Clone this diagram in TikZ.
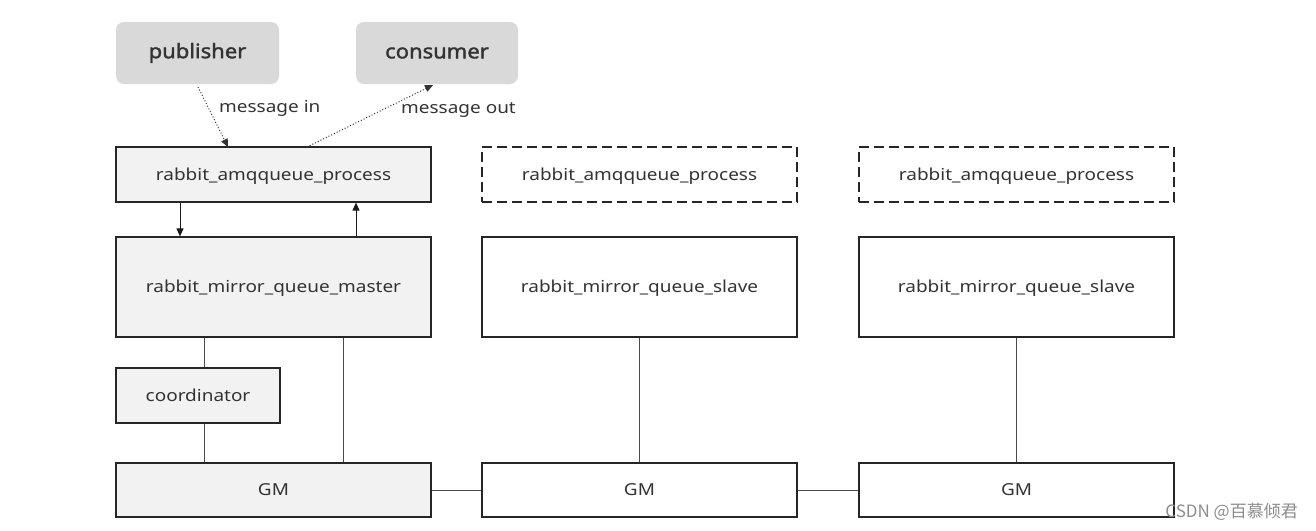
\documentclass[tikz,border=0pt]{standalone}
\usepackage{fontspec}
\setmainfont{Noto Sans}
\newfontfamily\widefont[FakeStretch=1.15]{Noto Sans}
\newfontfamily\clientfont[FakeBold=1.6,FakeStretch=1.1]{Noto Sans}
\newfontfamily\cjkfont{Noto Sans CJK SC}
\usetikzlibrary{arrows.meta}
\definecolor{txt}{HTML}{333333}
\definecolor{lightfill}{HTML}{F2F2F2}
\definecolor{pubfill}{HTML}{D9D9D9}
\tikzset{
  box/.style={draw=black!85, line width=1.2pt, text=txt, font=\widefont\fontsize{16.5}{19}\selectfont, text depth=1pt},
  fillbox/.style={box, fill=lightfill},
  dashbox/.style={box, dash pattern=on 10pt off 5pt},
  client/.style={fill=pubfill, rounded corners=8pt, text=txt, font=\clientfont\fontsize{20}{23}\selectfont},
  link/.style={draw=black!70, line width=1pt},
  flow/.style={draw=black!90, line width=1pt, -{Triangle[length=8pt,width=7pt]}},
  msg/.style={draw=black!80, line width=1pt, dotted, -{Triangle[length=8pt,width=7pt]}},
  lbl/.style={text=txt, font=\widefont\fontsize{16.5}{19}\selectfont, inner sep=0pt}
}
\begin{document}
\begin{tikzpicture}[x=1pt,y=-1pt]
\useasboundingbox (0,0) rectangle (1316,530);
% clients
\node[client, minimum width=163pt, minimum height=62pt] (pub) at (197.5,53) {publisher};
\node[client, minimum width=162pt, minimum height=62pt] (con) at (437,53) {consumer};
% top row
\node[fillbox, minimum width=315pt, minimum height=55pt] (amq1) at (273.5,174.5) {rabbit\_amqqueue\_process};
\node[dashbox, minimum width=315pt, minimum height=55pt] (amq2) at (639.5,174.5) {rabbit\_amqqueue\_process};
\node[dashbox, minimum width=315pt, minimum height=55pt] (amq3) at (1016.5,174.5) {rabbit\_amqqueue\_process};
% middle row
\node[fillbox, minimum width=315pt, minimum height=100pt] (master) at (273.5,287) {rabbit\_mirror\_queue\_master};
\node[box, minimum width=315pt, minimum height=100pt] (slave2) at (639.5,287) {rabbit\_mirror\_queue\_slave};
\node[box, minimum width=315pt, minimum height=100pt] (slave3) at (1016.5,287) {rabbit\_mirror\_queue\_slave};
% coordinator
\node[fillbox, minimum width=164pt, minimum height=55pt] (coord) at (198,395.5) {coordinator};
% GM row
\node[fillbox, minimum width=315pt, minimum height=54pt] (gm1) at (273.5,490) {GM};
\node[box, minimum width=315pt, minimum height=54pt] (gm2) at (639.5,490) {GM};
\node[box, minimum width=315pt, minimum height=54pt] (gm3) at (1016.5,490) {GM};
% message arrows
\coordinate (pubout) at (198,87);
\coordinate (amqin) at (228,147);
\coordinate (amqout) at (307,147);
\coordinate (conin) at (433,85);
\draw[msg] (pubout) -- (amqin);
\draw[msg] (amqout) -- (conin);
\node[lbl, anchor=west] (lin) at (219,108) {message in};
\node[lbl, anchor=west] (lout) at (401,110) {message out};
% process <-> master
\draw[flow] (amq1.south -| 180,0) -- (master.north -| 180,0);
\draw[flow] (master.north -| 356,0) -- (amq1.south -| 356,0);
% vertical links
\draw[link] (master.south -| 204,0) -- (coord.north -| 204,0);
\draw[link] (coord.south -| 204,0) -- (gm1.north -| 204,0);
\draw[link] (master.south -| 343,0) -- (gm1.north -| 343,0);
\draw[link] (slave2.south) -- (gm2.north);
\draw[link] (slave3.south) -- (gm3.north);
% GM ring
\draw[link] (gm1.east) -- (gm2.west);
\draw[link] (gm2.east) -- (gm3.west);
% watermark
\node[text=black!45, font=\cjkfont\fontsize{17}{19}\selectfont, anchor=east, inner sep=0pt] (wm) at (1298,512) {CSDN @百慕倾君};
\end{tikzpicture}
\end{document}
